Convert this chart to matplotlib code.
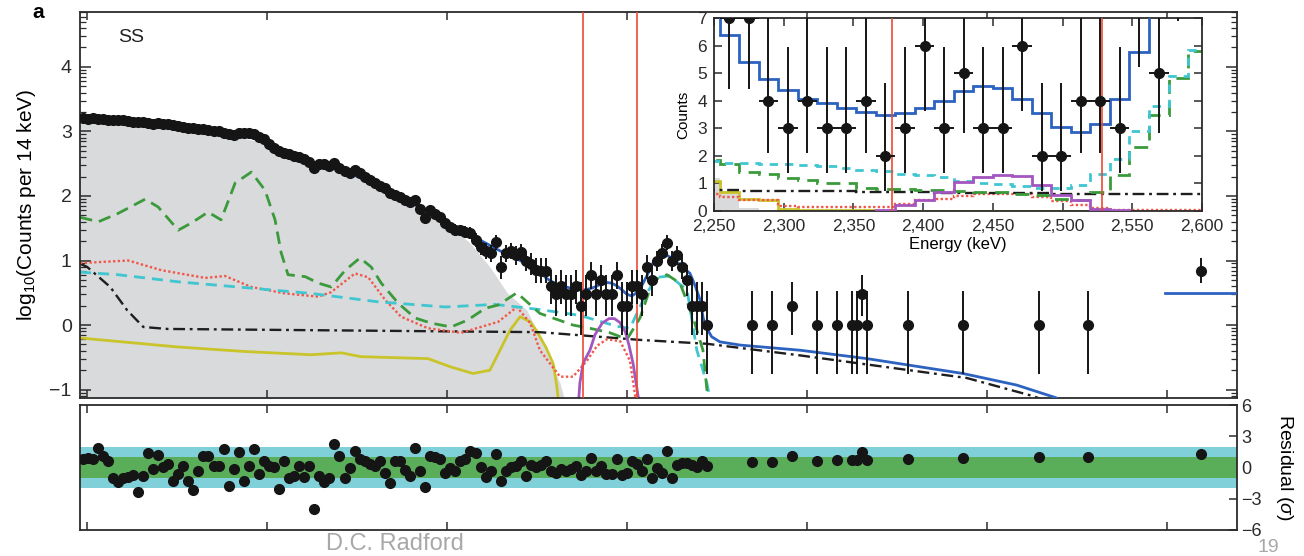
import numpy as np
import matplotlib.pyplot as plt
from matplotlib.ticker import FixedLocator, NullFormatter, FuncFormatter

plt.rcParams['font.family'] = ['Liberation Sans', 'DejaVu Sans']
plt.rcParams['mathtext.fontset'] = 'custom'
plt.rcParams['mathtext.rm'] = 'Liberation Sans'
plt.rcParams['mathtext.it'] = 'Liberation Sans:italic'

# 14 keV bins starting at 980 keV
bin_lo = 980
bin_w = 14

# log10(counts) of the high-statistics bins (first 91 bins)
dense_log = [3.21, 3.20, 3.21, 3.20, 3.19, 3.18, 3.18, 3.17, 3.17, 3.16,
             3.15, 3.14, 3.14, 3.13, 3.12, 3.13, 3.11, 3.11, 3.10, 3.09,
             3.07, 3.06, 3.06, 3.04, 3.03, 3.02, 3.01, 3.00, 2.98, 2.96,
             2.95, 2.98, 2.97, 2.98, 2.96, 2.92, 2.88, 2.80, 2.74, 2.69,
             2.66, 2.65, 2.62, 2.60, 2.58, 2.53, 2.44, 2.49, 2.50, 2.47,
             2.51, 2.44, 2.38, 2.35, 2.40, 2.36, 2.30, 2.24, 2.20, 2.16,
             2.12, 2.05, 2.01, 1.98, 1.94, 1.90, 1.93, 1.80, 1.66, 1.78,
             1.72, 1.67, 1.58, 1.52, 1.48, 1.47, 1.44, 1.43, 1.32, 1.21,
             1.15, 1.11, 1.28, 0.90, 1.11, 1.15, 1.08, 1.13, 1.00, 0.95,
             0.85]
# integer counts of the following bins (2261 keV .. 2723 keV)
roi_counts = [7, 7, 4, 3, 4, 3, 3, 4, 2, 3,
              6, 3, 5, 3, 3, 6, 2, 2, 4, 4,
              3, 8, 5, 10, 13, 19, 10, 12, 8, 5,
              2, 2, 2, 1]
# isolated non-empty bins at high energy
sparse_e = [2847, 2903, 2958, 3028, 3083, 3125, 3139, 3153, 3167, 3281, 3433, 3644, 3781, 4094]
sparse_counts = [1, 1, 2, 1, 1, 1, 1, 3, 1, 1, 1, 1, 1, 7]

# residuals (sigma)
dense_resid = [0.83, 0.90, 0.77, 1.86, 1.09, 0.67, -1.03, -1.41, -1.03, -0.93,
               -0.71, -2.31, -0.77, 1.41, -0.13, 1.22, 0.03, 0.35, -1.25, -0.61,
               0.13, -1.25, -2.12, -0.38, 1.09, 1.15, 0.13, 0.13, 1.79, -1.73,
               -0.19, 1.47, -1.25, 0.19, 1.73, -0.61, 0.67, 0.13, 0.03, -2.05,
               0.58, -1.03, -0.77, 0.13, -0.93, 0.13, -3.97, -0.77, -1.35, -1.03,
               2.28, 1.09, -1.03, -0.06, 1.63, 0.83, 0.58, 0.35, 0.13, 0.58,
               -0.51, -1.47, 0.67, 0.58, -0.26, -0.77, 1.86, -0.29, -1.89, 1.15,
               0.99, 0.83, -0.51, -0.06, -0.38, 0.58, 0.77, 1.54, 1.41, 0.03,
               -0.93, -0.38, 1.31, -1.25, -0.29, 0.03, 0.13, 0.58, -0.77, 0.26,
               0.03, 0.26, 0.58, -0.38, -0.51, -0.13, -0.38, -0.19, 0.13, -0.71,
               -0.38, 0.90, -0.38, 0.19, -0.61, -0.61, 0.77, -0.71, -0.51, 0.58,
               0.35, -0.38, 0.77, -1.03, -0.06, -0.51, 1.54, -1.03, 0.26, 0.45,
               0.45, 0.26, 0.03, 0.67, 0.19]
sparse_resid = [0.5, 0.5, 1.1, 0.66, 0.7, 0.7, 0.7, 1.5, 0.7, 0.86, 0.9, 0.97, 1.0, 1.29]

# fit components, main panel (energy keV, log10 counts)
gray_e = [980, 1175, 1397, 1467, 1508, 1592, 1731, 1869, 1981, 2064, 2119, 2167, 2222, 2258, 2294, 2314, 2333]
gray_log = [3.18, 3.12, 2.95, 2.85, 2.78, 2.58, 2.35, 1.98, 1.67, 1.27, 0.90, 0.50, 0.23, -0.19, -0.65, -0.90, -1.3]

green_e = [980, 1031, 1086, 1161, 1197, 1253, 1289, 1336, 1372, 1411, 1456, 1494, 1522, 1539, 1558,
           1606, 1642, 1678, 1717, 1758, 1789, 1817, 1864, 1911, 1956, 2011, 2058, 2106, 2142, 2194,
           2258, 2350, 2397, 2453, 2500, 2536, 2572, 2611, 2647, 2683, 2711, 2722, 2731]
green_log = [1.67, 1.60, 1.73, 1.95, 1.83, 1.47, 1.58, 1.75, 1.63, 2.20, 2.37, 2.09, 1.63, 1.12, 0.78,
             0.75, 0.65, 0.59, 0.85, 1.04, 0.90, 0.65, 0.34, 0.11, 0.03, -0.03, 0.08, 0.26, 0.31, 0.50,
             0.18, 0.0, -0.05, -0.12, -0.22, 0.11, 0.69, 0.78, 0.65, 0.13, -0.39, -1.0, -1.3]

cyan_e = [980, 1086, 1253, 1439, 1622, 1808, 1994, 2133, 2258, 2369, 2472, 2508, 2525, 2550, 2583,
          2619, 2667, 2694, 2722, 2736]
cyan_log = [0.82, 0.78, 0.67, 0.58, 0.49, 0.36, 0.28, 0.32, 0.24, 0.15, -0.02, -0.05, 0.15, 0.45, 0.74,
            0.76, 0.54, -0.39, -0.9, -1.3]

red_e = [980, 1114, 1206, 1328, 1383, 1456, 1550, 1642, 1678, 1744, 1781, 1828, 1872, 1947, 2039,
         2142, 2194, 2231, 2258, 2314, 2350, 2389, 2417, 2444, 2481, 2508, 2528]
red_log = [0.96, 1.00, 0.85, 0.73, 0.76, 0.59, 0.49, 0.44, 0.51, 0.80, 0.74, 0.39, 0.13, -0.05, -0.12,
           0.05, 0.28, 0.03, -0.39, -0.80, -0.80, -0.55, -0.32, -0.22, -0.25, -0.55, -1.3]

dd_e = [980, 1000, 1064, 1111, 1156, 1222, 2258, 2536, 2722, 2981, 3444, 3628, 3700]
dd_log = [0.95, 0.90, 0.59, 0.23, -0.03, -0.06, -0.11, -0.23, -0.29, -0.47, -0.82, -1.1, -1.25]

yellow_e = [980, 1253, 1439, 1622, 1706, 1761, 1947, 2011, 2072, 2119, 2147, 2175, 2203, 2231,
            2250, 2275, 2295, 2305, 2312]
yellow_log = [-0.20, -0.34, -0.41, -0.46, -0.43, -0.49, -0.52, -0.65, -0.75, -0.70, -0.39, -0.08, 0.13, 0.05,
              -0.10, -0.35, -0.60, -0.95, -1.3]

magenta_e = [2364, 2369, 2378, 2397, 2411, 2431, 2450, 2465, 2480, 2495, 2505, 2517, 2528, 2536]
magenta_log = [-1.3, -0.9, -0.59, -0.39, -0.15, 0.03, 0.10, 0.10, 0.04, -0.10, -0.30, -0.60, -1.0, -1.3]

blue_e = [1600, 1700, 1814, 1925, 1981, 2064, 2147, 2203, 2247, 2261, 2275, 2289, 2303, 2317, 2331,
          2345, 2359, 2373, 2387, 2401, 2415, 2429, 2443, 2457, 2471, 2485, 2499, 2513, 2527, 2541,
          2555, 2572, 2590, 2611, 2630, 2650, 2675, 2690, 2703, 2712, 2722, 2735, 2758, 2814, 2981,
          3167, 3433, 3583, 3694, 3720]
blue_log = [2.56, 2.42, 2.15, 1.82, 1.62, 1.40, 1.15, 1.00, 0.87, 0.81, 0.73, 0.68, 0.64, 0.61, 0.59,
            0.57, 0.56, 0.54, 0.55, 0.57, 0.60, 0.64, 0.66, 0.65, 0.61, 0.55, 0.48, 0.45, 0.50, 0.61,
            0.76, 0.96, 1.05, 1.08, 1.02, 0.92, 0.80, 0.60, 0.39, 0.10, -0.05, -0.18, -0.26, -0.31, -0.39,
            -0.52, -0.75, -0.93, -1.13, -1.3]
blue_tail_e = [3994, 4195]
blue_tail_log = [0.5, 0.5]

roi_lines = [2378, 2528]

# inset components, counts per 14 keV bin, bins 2240..2604 keV
inset_edges = 2240 + 14 * np.arange(27)
inset_blue = [7.4, 6.4, 5.4, 4.8, 4.4, 4.05, 3.9, 3.75, 3.6, 3.5, 3.55, 3.75, 4.0, 4.35, 4.55,
              4.45, 4.05, 3.55, 3.05, 2.85, 3.15, 4.05, 5.75, 9.5, 13.0, 15.0]
inset_cyan = [1.8, 1.75, 1.75, 1.72, 1.7, 1.68, 1.65, 1.55, 1.5, 1.45, 1.36, 1.3, 1.22, 1.08, 1.02,
              0.98, 0.92, 0.85, 0.82, 0.95, 1.36, 1.9, 2.9, 3.8, 4.9, 5.85]
inset_green = [1.85, 1.72, 1.4, 1.36, 1.2, 1.12, 1.0, 1.0, 0.85, 0.81, 0.78, 0.75, 0.75, 0.72, 0.69,
               0.69, 0.6, 0.57, 0.45, 0.39, 0.69, 1.3, 2.33, 3.5, 4.82, 5.8]
inset_red = [0.6, 0.5, 0.4, 0.4, 0.18, 0.15, 0.15, 0.15, 0.15, 0.15, 0.25, 0.4, 0.45, 0.55, 0.6,
             0.6, 0.6, 0.5, 0.35, 0.2, 0.1, 0.05, 0.05, 0.05, 0.05, 0.05]
inset_dd = [0.76, 0.75, 0.74, 0.74, 0.73, 0.72, 0.71, 0.71, 0.70, 0.69, 0.68, 0.68, 0.67, 0.66, 0.66,
            0.65, 0.64, 0.64, 0.63, 0.63, 0.62, 0.62, 0.61, 0.61, 0.60, 0.60]
inset_yellow = [1.1, 0.7, 0.42, 0.4, 0.08, 0.05, 0.03, 0.02, 0.02, 0.01, 0.01, 0.01, 0.01, 0.01, 0.01,
                0.01, 0.01, 0.01, 0.01, 0.01, 0.01, 0.01, 0.01, 0.01, 0.01, 0.01]
inset_gray = [1.2, 0.72, 0.12, 0.05, 0.02, 0.01, 0, 0, 0, 0, 0, 0, 0, 0, 0,
              0, 0, 0, 0, 0, 0, 0, 0, 0, 0, 0]
inset_magenta = [0, 0, 0, 0, 0, 0, 0, 0, 0, 0.05, 0.2, 0.4, 0.7, 1.06, 1.24,
                 1.3, 1.26, 0.93, 0.57, 0.39, 0.08, 0.02, 0, 0, 0, 0]

c_gray = '#d9dadc'
c_green = '#3b9a3b'
c_red = '#f0584a'
c_cyan = '#3fc6d0'
c_dd = '#1e1e1e'
c_yellow = '#c9c42a'
c_mag = '#a356c0'
c_blue = '#2c62c0'
c_roi = '#ec4a33'
c_frame = '#2b2b2b'


def gehrels(n):
    n = np.asarray(n, float)
    up = n + np.sqrt(n + 0.75) + 1
    lo = n * (1 - 1 / (9 * n) - 1 / (3 * np.sqrt(n))) ** 3
    return lo, up


n_dense = len(dense_log) + len(roi_counts)
dense_e = bin_lo + bin_w / 2 + bin_w * np.arange(n_dense)
dense_counts = np.concatenate([10 ** np.array(dense_log), roi_counts])
all_e = np.concatenate([dense_e, sparse_e])
all_counts = np.concatenate([dense_counts, sparse_counts])
all_resid = np.concatenate([dense_resid, sparse_resid])

fig = plt.figure(figsize=(13.04, 5.56), dpi=100)
ax = fig.add_axes([80 / 1304, 158 / 556, 1157 / 1304, 386 / 556])
ax_r = fig.add_axes([80 / 1304, 26 / 556, 1157 / 1304, 125 / 556])
ax_in = fig.add_axes([714 / 1304, 345 / 556, 488 / 1304, 193 / 556])

# ---- main panel
ax.fill_between(gray_e, -3, gray_log, color=c_gray, lw=0, zorder=1)
ax.plot(yellow_e, yellow_log, color=c_yellow, lw=2, zorder=2)
ax.plot(dd_e, dd_log, color=c_dd, lw=1.7, ls=(0, (5, 2, 1.2, 2)), zorder=2)
ax.plot(red_e, red_log, color=c_red, lw=1.7, ls=(0, (1, 1)), zorder=2)
ax.plot(cyan_e, cyan_log, color=c_cyan, lw=2, ls=(0, (4, 2.5)), zorder=2)
ax.plot(green_e, green_log, color=c_green, lw=2, ls=(0, (4.5, 2.5)), zorder=2)
ax.plot(magenta_e, magenta_log, color=c_mag, lw=2, zorder=2)
ax.plot(blue_e, blue_log, color=c_blue, lw=2, zorder=3)
ax.plot(blue_tail_e, blue_tail_log, color=c_blue, lw=2, zorder=3)
for e in roi_lines:
    ax.axvline(e, color=c_roi, lw=1.2, zorder=4)

lo, up = gehrels(all_counts)
y = np.log10(all_counts)
ax.errorbar(all_e, y, yerr=[y - np.log10(lo), np.log10(up) - y], fmt='o', ms=7,
            color='#151515', ecolor='#151515', elinewidth=1.4, capsize=0, zorder=6)

ax.set_xlim(980, 4195)
ax.set_ylim(-1.13, 4.85)
ax.set_xticks([1000, 1500, 2000, 2500, 3000, 3500, 4000])
ax.xaxis.set_major_formatter(NullFormatter())
ax.set_yticks([-1, 0, 1, 2, 3, 4])
minor = [d + np.log10(m) for d in range(-2, 5) for m in range(2, 10)]
ax.yaxis.set_minor_locator(FixedLocator(minor))
ax.tick_params(axis='both', which='both', direction='in', top=True, right=True, colors=c_frame)
ax.tick_params(axis='y', which='major', length=8, width=1.1, labelsize=14, pad=6)
ax.tick_params(axis='y', which='minor', length=4.5, width=0.9)
ax.tick_params(axis='x', which='major', length=6, width=1.1)
ax.set_ylabel(r'log$_{10}$(Counts per 14 keV)', fontsize=15, labelpad=8)
ax.text(0.033, 0.935, 'SS', transform=ax.transAxes, fontsize=14, color='#222', va='center')
for s in ax.spines.values():
    s.set_color(c_frame)
    s.set_linewidth(1.3)

# ---- inset
ax_in.set_zorder(10)
ax_in.set_facecolor('white')
ax_in.stairs(inset_gray, inset_edges, fill=True, color=c_gray, lw=0, zorder=1)
ax_in.stairs(inset_yellow, inset_edges, color=c_yellow, lw=2, zorder=2)
ax_in.stairs(inset_red, inset_edges, color=c_red, lw=1.7, ls=(0, (1, 1)), zorder=2)
ax_in.stairs(inset_dd, inset_edges, color=c_dd, lw=1.7, ls=(0, (5, 2, 1.2, 2)), zorder=2)
ax_in.stairs(inset_green, inset_edges, color=c_green, lw=2, ls=(0, (5, 3)), zorder=2)
ax_in.stairs(inset_cyan, inset_edges, color=c_cyan, lw=2, ls=(0, (3, 2.5)), zorder=2)
ax_in.stairs(inset_magenta[9:22], inset_edges[9:23], color=c_mag, lw=2, zorder=3)
ax_in.stairs(inset_blue, inset_edges, color=c_blue, lw=2, zorder=3)
for e in roi_lines:
    ax_in.axvline(e, color=c_roi, lw=1.2, zorder=4)

sel = (dense_e > 2250) & (dense_e < 2600)
ilo, iup = gehrels(dense_counts[sel])
ic = dense_counts[sel]
ax_in.errorbar(dense_e[sel], ic, yerr=[ic - ilo, iup - ic], xerr=bin_w / 2, fmt='o', ms=7,
               color='#151515', ecolor='#151515', elinewidth=1.4, capsize=0, zorder=6)
ax_in.set_xlim(2250, 2600)
ax_in.set_ylim(0, 7)
ax_in.set_xticks(np.arange(2250, 2601, 50))
ax_in.xaxis.set_major_formatter(FuncFormatter(lambda v, p: f'{int(v):,}'))
ax_in.set_yticks(range(8))
ax_in.tick_params(axis='both', direction='in', top=True, right=True, length=6, width=1.1,
                  labelsize=12.5, colors=c_frame)
ax_in.tick_params(axis='x', pad=6)
ax_in.tick_params(axis='y', pad=5)
ax_in.set_xlabel('Energy (keV)', fontsize=12, labelpad=2)
ax_in.set_ylabel('Counts', fontsize=11, labelpad=5)
for s in ax_in.spines.values():
    s.set_color(c_frame)
    s.set_linewidth(1.3)

# ---- residuals
ax_r.axhspan(-2, 2, color='#80d0da', lw=0, zorder=1)
ax_r.axhspan(-1, 1, color='#5aae5a', lw=0, zorder=2)
ax_r.plot(all_e, all_resid, 'o', ms=7, color='#151515', zorder=5)
ax_r.set_xlim(980, 4195)
ax_r.set_ylim(-6, 6)
ax_r.set_xticks([1000, 1500, 2000, 2500, 3000, 3500, 4000])
ax_r.xaxis.set_major_formatter(NullFormatter())
ax_r.yaxis.tick_right()
ax_r.yaxis.set_label_position('right')
ax_r.set_yticks([-6, -3, 0, 3, 6])
ax_r.tick_params(axis='both', direction='in', top=True, length=6, width=1.1, labelsize=13,
                 colors=c_frame, pad=3)
ax_r.tick_params(axis='y', left=False)
ax_r.set_ylabel(r'Residual ($\sigma$)', fontsize=14, rotation=270, labelpad=24)
for s in ax_r.spines.values():
    s.set_color(c_frame)
    s.set_linewidth(1.3)

fig.text(38 / 1304, 1 - 13 / 556, 'a', fontsize=15, fontweight='bold', va='center', ha='center')
fig.text(395 / 1304, 1 - 544 / 556, 'D.C. Radford', fontsize=17, color='#a8a8a8', ha='center', va='center')
fig.text(1268 / 1304, 1 - 547 / 556, '19', fontsize=14, color='#a8a8a8', ha='center', va='center')

fig.savefig('out.png', dpi=100)
